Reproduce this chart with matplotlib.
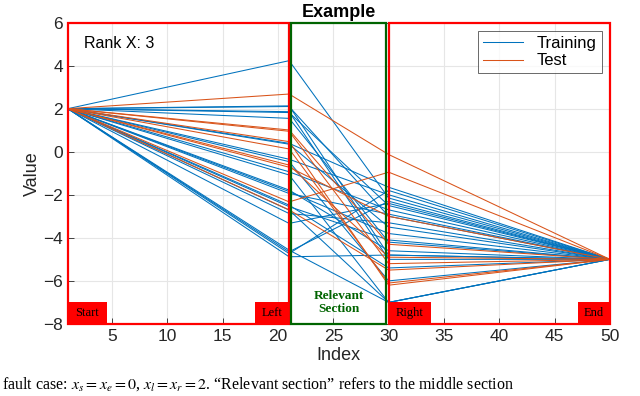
import matplotlib
matplotlib.use("Agg")
import matplotlib.pyplot as plt
from matplotlib.patches import Rectangle

# ---- data ----
x_points = [1, 21, 30, 50]
start_value = 2.0
end_value = -5.0

train_left = [4.23, 2.13, 2.10, 1.86, 1.82, 1.55, 0.39, 0.35, -0.35, -0.46, -0.93,
              -1.08, -1.78, -1.85, -1.94, -2.48, -2.55, -2.71, -2.87, -3.33,
              -4.57, -4.65, -4.73, -4.88]
train_right = [-2.15, -4.8, -3.0, -5.0, -2.5, -4.2, -1.65, -3.5, -2.0, -6.0, -2.7,
               -7.0, -4.6, -3.8, -2.9, -5.4, -4.1, -7.0, -3.3, -2.4,
               -7.0, -2.3, -1.8, -4.8]

test_left = [2.68, 1.01, 0.95, 0.47, 0.13, -0.62, -0.72, -2.33, -2.70]
test_right = [-0.13, -4.3, -5.2, -6.2, -6.1, -4.9, -3.0, -0.95, -5.5]

x_ticks = [5, 10, 15, 20, 25, 30, 35, 40, 45, 50]
y_ticks = [-8, -6, -4, -2, 0, 2, 4, 6]
region_labels = ["Start", "Left", "Right", "End"]

plt.rcParams['font.family'] = ['Liberation Sans', 'DejaVu Sans']
plt.rcParams['mathtext.fontset'] = 'stix'

fig = plt.figure(figsize=(6.4, 3.96), dpi=100)
ax = fig.add_axes([0.106, 0.182, 0.847, 0.761])

blue = '#0072BD'
orange = '#D95319'

for i, (l, r) in enumerate(zip(train_left, train_right)):
    ax.plot(x_points, [start_value, l, r, end_value], color=blue, lw=0.75,
            label='Training' if i == 0 else None, zorder=3)
for i, (l, r) in enumerate(zip(test_left, test_right)):
    ax.plot(x_points, [start_value, l, r, end_value], color=orange, lw=0.75,
            label='Test' if i == 0 else None, zorder=3)

ax.set_xlim(1, 50)
ax.set_ylim(-8, 6)
ax.set_xticks(x_ticks)
ax.set_yticks(y_ticks)
ax.tick_params(direction='in', labelsize=12.5, colors='#262626', length=4, width=0.6)
ax.grid(True, color='#e6e6e6', lw=0.8, zorder=0)
ax.set_axisbelow(True)
for s in ax.spines.values():
    s.set_color('#262626')
    s.set_linewidth(0.6)

ax.set_xlabel('Index', fontsize=13, color='#262626', labelpad=2)
ax.set_ylabel('Value', fontsize=13, color='#262626', labelpad=2)
ax.set_title('Example', fontsize=13, fontweight='bold', pad=4)

# region boxes
red = '#ff0000'
green = '#006400'
ax.add_patch(Rectangle((1, -8), 20, 14, fill=False, ec=red, lw=1.6, zorder=5, clip_on=False))
ax.add_patch(Rectangle((30, -8), 20, 14, fill=False, ec=red, lw=1.6, zorder=5, clip_on=False))
ax.add_patch(Rectangle((21.2, -8), 8.6, 14, fill=False, ec=green, lw=1.6, zorder=6, clip_on=False))

label_boxes = [(1, 4.5), (17.9, 21), (30, 33.8), (47.1, 50)]
for (x0, x1), lab in zip(label_boxes, region_labels):
    ax.add_patch(Rectangle((x0, -8), x1 - x0, 1.0, fc=red, ec=red, lw=0, zorder=7))
    ax.text((x0 + x1) / 2, -7.5, lab, ha='center', va='center', fontsize=9,
            family='Liberation Serif', color='black', zorder=8)

ax.text(25.5, -7.0, 'Relevant\nSection', ha='center', va='center', fontsize=9.5,
        family='Liberation Serif', fontweight='bold', color=green, zorder=8,
        linespacing=1.1)

ax.text(0.03, 0.93, 'Rank X: 3', transform=ax.transAxes, fontsize=11.5,
        ha='left', va='center', color='black', zorder=8)

leg = ax.legend(loc='upper right', fontsize=12, frameon=True, fancybox=False,
                edgecolor='#262626', borderaxespad=0.5, handlelength=2.4,
                borderpad=0.3, labelspacing=0.15)
leg.get_frame().set_linewidth(0.6)
leg.set_zorder(9)

fig.text(0.003, 0.008, 'fault case: $x_s = x_e = 0$, $x_l = x_r = 2$. \u201cRelevant section\u201d refers to the middle section',
         fontsize=11.5, family='Liberation Serif', ha='left', va='bottom', color='black')

fig.savefig('out.png', dpi=100)
